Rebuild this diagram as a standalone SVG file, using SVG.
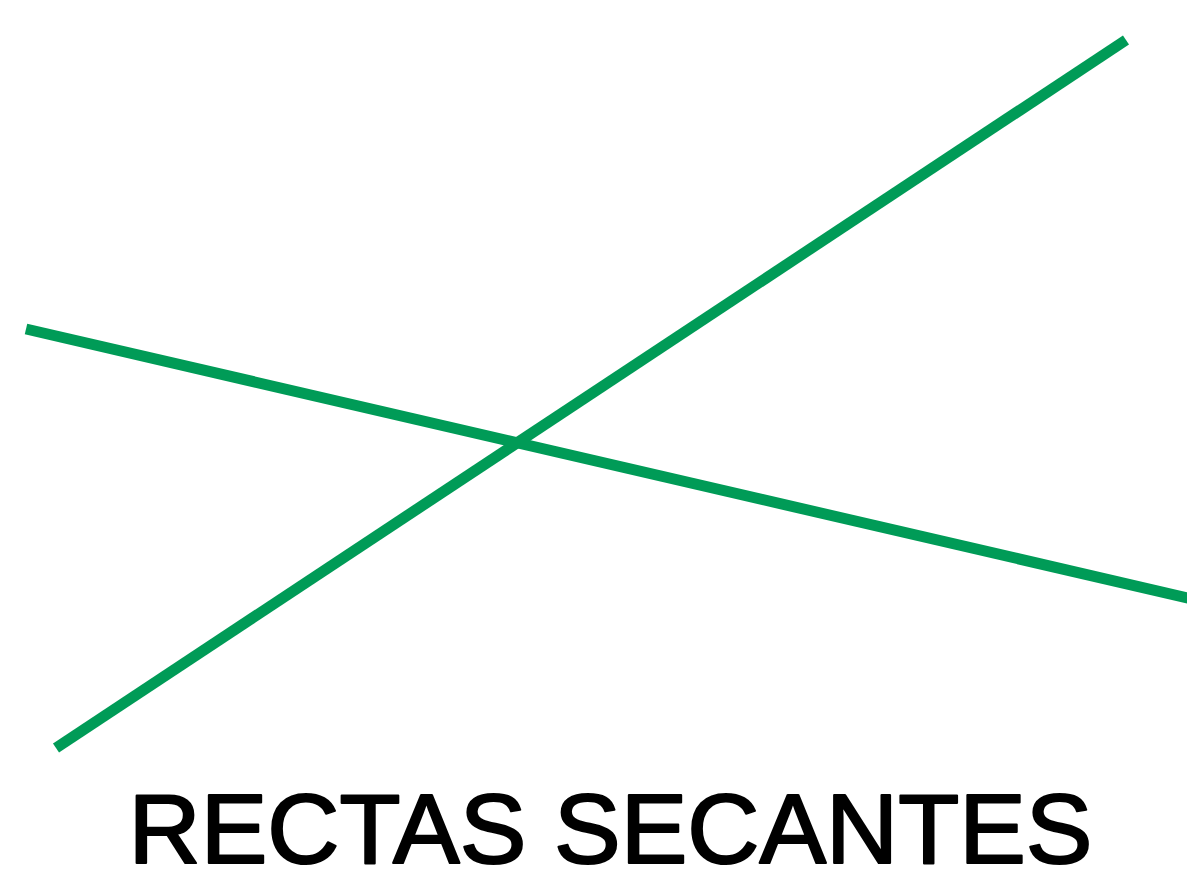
<svg xmlns="http://www.w3.org/2000/svg" width="1187" height="874" viewBox="0 0 1187 874">
<style>
.ln{stroke:#009B57;stroke-width:11;fill:none}
.t{font-family:"Liberation Sans",Arial,sans-serif;font-size:99px;fill:#000;stroke:#000;stroke-width:2.2;stroke-linejoin:round}
</style>
<rect width="1187" height="874" fill="#fff"/>
<g id="lines">
<line class="ln" x1="56" y1="748" x2="1126" y2="40"/>
<line class="ln" x1="26" y1="329" x2="1192" y2="599"/>
</g>
<g id="label">
<text class="t" x="610.5" y="863" text-anchor="middle" textLength="964" lengthAdjust="spacingAndGlyphs">RECTAS SECANTES</text>
</g>
</svg>
